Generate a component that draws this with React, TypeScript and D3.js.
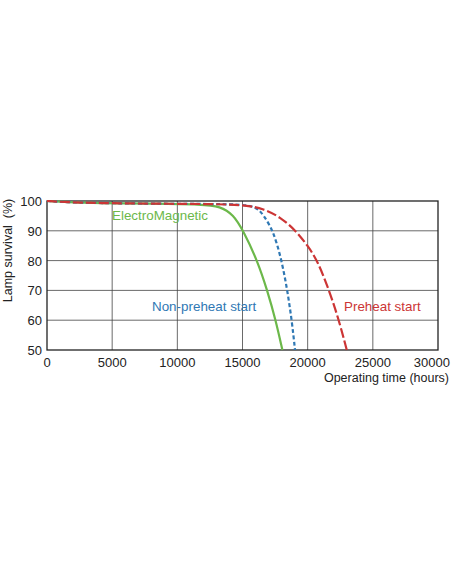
import * as d3 from "d3";

const xTicks = [0, 5000, 10000, 15000, 20000, 25000, 30000];
const yTicks = [50, 60, 70, 80, 90, 100];

const electroMagnetic: [number, number][] = [
  [0, 100], [1500, 99.6], [4000, 99.3], [8000, 99.1], [12000, 98.9], [13270, 98.2],
  [14290, 95.5], [15060, 90], [16140, 80], [16900, 70], [17550, 60], [18060, 50],
];
const nonPreheat: [number, number][] = [
  [0, 100], [1500, 99.6], [4000, 99.3], [8000, 99.1], [13000, 99], [15000, 98.8],
  [16090, 98], [16600, 95.3], [17370, 90], [18010, 80], [18440, 70], [18780, 60], [19030, 50],
];
const preheat: [number, number][] = [
  [0, 100], [1500, 99.6], [4000, 99.3], [8000, 99.1], [13000, 99], [15330, 98.6],
  [16600, 97.4], [17880, 94.7], [19100, 90], [20000, 85], [20750, 80], [21650, 70], [22400, 60], [23000, 50],
];

const series = [
  { name: "ElectroMagnetic", data: electroMagnetic, color: "#6cb84a", dash: "", lx: 112, ly: 220 },
  { name: "Non-preheat start", data: nonPreheat, color: "#2f78b4", dash: "4,2.5", lx: 152, ly: 311 },
  { name: "Preheat start", data: preheat, color: "#cc3535", dash: "10,3", lx: 344, ly: 311 },
];

export default function App() {
  const W = 452, H = 584;
  const m = { left: 47, right: 438, top: 201, bottom: 350 };
  const x = d3.scaleLinear().domain([0, 30000]).range([m.left, m.right]);
  const y = d3.scaleLinear().domain([50, 100]).range([m.bottom, m.top]);
  const line = d3.line<[number, number]>().x(d => x(d[0])).y(d => y(d[1])).curve(d3.curveBasis);
  const font = "Arial, 'Liberation Sans', sans-serif";

  return (
    <svg width={W} height={H} style={{ position: "absolute", left: 0, top: 0, background: "#fff" }} fontFamily={font}>
      {/* grid */}
      {xTicks.slice(1, -1).map(t => (
        <line key={"gx" + t} x1={x(t)} x2={x(t)} y1={m.top} y2={m.bottom} stroke="#444" strokeWidth={0.8} />
      ))}
      {yTicks.slice(1, -1).map(t => (
        <line key={"gy" + t} x1={m.left} x2={m.right} y1={y(t)} y2={y(t)} stroke="#444" strokeWidth={0.8} />
      ))}
      <rect x={m.left} y={m.top} width={m.right - m.left} height={m.bottom - m.top} fill="none" stroke="#222" strokeWidth={1.3} />
      {/* curves */}
      {series.map(s => (
        <path key={s.name} d={line(s.data) || ""} fill="none"
          stroke={s.color} strokeWidth={2.2} strokeDasharray={s.dash} />
      ))}
      {/* labels */}
      {series.map(s => (
        <text key={"l" + s.name} x={s.lx} y={s.ly} fill={s.color} fontSize={13.4}>{s.name}</text>
      ))}
      {/* axes labels */}
      {xTicks.map((t, i) => (
        <text key={"xt" + t} x={i === xTicks.length - 1 ? 450 : x(t)} y={367} fontSize={13}
          textAnchor={i === xTicks.length - 1 ? "end" : "middle"} fill="#222">{t}</text>
      ))}
      {yTicks.map(t => (
        <text key={"yt" + t} x={42} y={y(t) + 5} fontSize={13} textAnchor="end" fill="#222">{t}</text>
      ))}
      <text x={449} y={382} fontSize={12.5} textAnchor="end" fill="#222">Operating time (hours)</text>
      <text transform={`translate(12,${(m.top + m.bottom) / 2 - 25}) rotate(-90)`} fontSize={12.5} textAnchor="middle" fill="#222">
        {"Lamp survival\u00a0 (%)"}
      </text>
    </svg>
  );
}
